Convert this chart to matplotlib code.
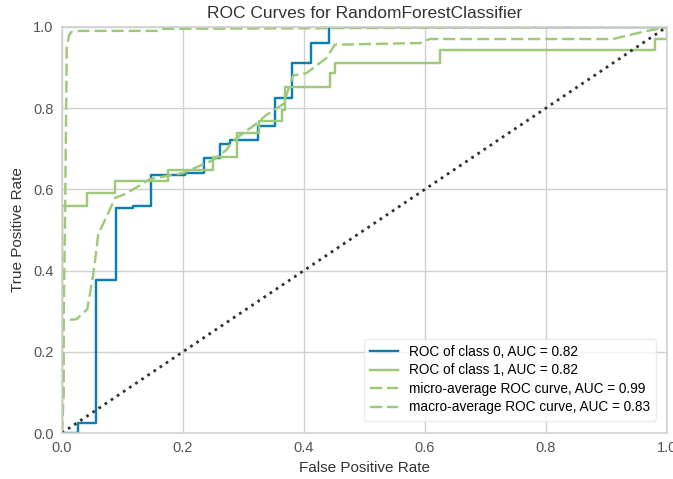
import matplotlib
matplotlib.use("Agg")
import matplotlib.pyplot as plt

plt.rcParams["font.family"] = ["Liberation Sans", "DejaVu Sans"]

# ROC of class 0 (step points)
fpr_0 = [0.0, 0.026, 0.026, 0.057, 0.057, 0.089, 0.089, 0.118, 0.118, 0.148, 0.148,
         0.203, 0.203, 0.235, 0.235, 0.261, 0.261, 0.278, 0.278, 0.324, 0.324,
         0.352, 0.352, 0.381, 0.381, 0.411, 0.411, 0.442, 0.442, 1.0]
tpr_0 = [0.0, 0.0, 0.025, 0.025, 0.377, 0.377, 0.553, 0.553, 0.56, 0.56, 0.634,
         0.634, 0.64, 0.64, 0.678, 0.678, 0.711, 0.711, 0.722, 0.722, 0.756,
         0.756, 0.824, 0.824, 0.912, 0.912, 0.96, 0.96, 1.0, 1.0]

# ROC of class 1
fpr_1 = [0.0, 0.0, 0.042, 0.042, 0.088, 0.088, 0.176, 0.176, 0.25, 0.25, 0.29, 0.29,
         0.326, 0.326, 0.363, 0.363, 0.369, 0.369, 0.443, 0.443, 0.451, 0.451,
         0.625, 0.625, 0.98, 0.98, 1.0, 1.0]
tpr_1 = [0.0, 0.56, 0.56, 0.59, 0.59, 0.621, 0.621, 0.648, 0.648, 0.68, 0.68, 0.738,
         0.738, 0.767, 0.767, 0.796, 0.796, 0.853, 0.853, 0.886, 0.886, 0.912,
         0.912, 0.943, 0.943, 0.97, 0.97, 1.0]

# micro-average ROC curve
fpr_micro = [0.0, 0.005, 0.008, 0.012, 0.016, 0.03, 0.157, 0.165, 1.0]
tpr_micro = [0.0, 0.5, 0.95, 0.98, 0.988, 0.99, 0.99, 0.995, 1.0]

# macro-average ROC curve
fpr_macro = [0.0, 0.003, 0.003, 0.024, 0.042, 0.052, 0.057, 0.06, 0.074, 0.088,
             0.107, 0.129, 0.145, 0.2, 0.25, 0.272, 0.283, 0.32, 0.338, 0.366,
             0.382, 0.404, 0.437, 0.451, 0.592, 0.608, 0.911, 0.961, 0.993, 1.0]
tpr_macro = [0.0, 0.1, 0.278, 0.28, 0.305, 0.393, 0.45, 0.49, 0.533, 0.579,
             0.59, 0.61, 0.625, 0.64, 0.672, 0.697, 0.72, 0.76, 0.783, 0.81,
             0.88, 0.886, 0.923, 0.956, 0.96, 0.97, 0.97, 0.988, 0.997, 1.0]

labels = ["ROC of class 0, AUC = 0.82", "ROC of class 1, AUC = 0.82",
          "micro-average ROC curve, AUC = 0.99", "macro-average ROC curve, AUC = 0.83"]

blue = "#0a7fb0"
green = "#9fc97a"
grid_c = "#d0d0d0"
lw = 1.75
dash = (5, 2)

fig = plt.figure(figsize=(6.73, 4.79), dpi=100)
ax = fig.add_axes([0.092, 0.096, 0.899, 0.848])

ax.plot(fpr_0, tpr_0, color=blue, lw=lw, label=labels[0])
ax.plot(fpr_1, tpr_1, color=green, lw=lw, label=labels[1])
ax.plot(fpr_micro, tpr_micro, color=green, lw=lw, ls="--", dashes=dash, label=labels[2])
ax.plot(fpr_macro, tpr_macro, color=green, lw=lw, ls="--", dashes=dash, label=labels[3])
ax.plot([0, 1], [0, 1], color="#333333", lw=2, ls=":")

ax.set_xlim(0, 1)
ax.set_ylim(0, 1)
ax.set_xticks([0, 0.2, 0.4, 0.6, 0.8, 1.0])
ax.set_yticks([0, 0.2, 0.4, 0.6, 0.8, 1.0])
ax.grid(True, color=grid_c, lw=1)
ax.set_axisbelow(True)
for s in ax.spines.values():
    s.set_color(grid_c)
    s.set_linewidth(1.2)
ax.tick_params(length=0, labelsize=10.5, colors="#555555", pad=6)

ax.set_title("ROC Curves for RandomForestClassifier", fontsize=12.5, color="#333333", pad=6)
ax.set_xlabel("False Positive Rate", fontsize=11, color="#333333", labelpad=4)
ax.set_ylabel("True Positive Rate", fontsize=11, color="#333333", labelpad=6)

leg = ax.legend(loc="lower right", fontsize=9.8, frameon=True, handlelength=2.1,
                handletextpad=0.75, borderpad=0.45, labelspacing=0.33,
                bbox_to_anchor=(0.993, 0.014))
leg.get_frame().set_edgecolor("#e6e6e6")
leg.get_frame().set_facecolor("white")
leg.get_frame().set_alpha(0.8)

fig.savefig("out.png", dpi=100)
